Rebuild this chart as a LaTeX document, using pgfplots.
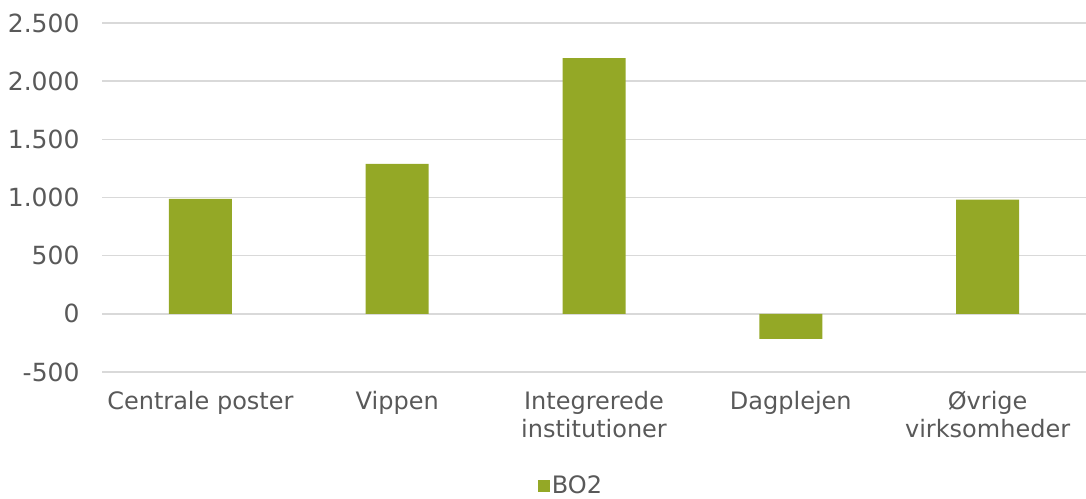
\documentclass[border=0pt]{standalone}
\usepackage{pgfplots}
\pgfplotsset{compat=1.18}
\usepackage{fontspec}
\setmainfont{DejaVu Sans}
\definecolor{barc}{HTML}{94A826}
\definecolor{txtc}{HTML}{595959}
\definecolor{gridc}{HTML}{D9D9D9}
\begin{document}
\begin{tikzpicture}[x=1pt,y=1pt]
\path[use as bounding box] (0,0) rectangle (1086,498);
\begin{axis}[
  at={(102pt,126pt)}, anchor=south west,
  scale only axis, width=984pt, height=349pt,
  xmin=-0.5, xmax=4.5, ymin=-500, ymax=2500,
  axis line style={draw=none},
  major tick length=0pt, tick style={draw=none},
  xmajorgrids=false, ymajorgrids=true,
  major grid style={draw=gridc, line width=1.5pt},
  ytick={-500,0,500,1000,1500,2000,2500},
  yticklabels={-500,0,500,1.000,1.500,2.000,2.500},
  xtick=data,
  xticklabels={{Centrale poster},{Vippen},{Integrerede\\institutioner},{Dagplejen},{Øvrige\\virksomheder}},
  ticklabel style={text=txtc},
  xticklabel style={font=\fontsize{24}{28}\selectfont, align=center, yshift=-16pt},
  yticklabel style={font=\fontsize{25}{29}\selectfont, xshift=-19pt},
  ybar, bar width=63pt,
  legend style={at={(0.4766,-0.326)}, anchor=center, draw=none, fill=none, font=\fontsize{24}{29}\selectfont, text=txtc, legend columns=1},
  legend image code/.code={\fill[#1] (0pt,-6pt) rectangle (12pt,6pt);},
]
\addplot[fill=barc, draw=none] coordinates {(0,988) (1,1289) (2,2199) (3,-215) (4,981)};
\addlegendentry{BO2}
\end{axis}
\end{tikzpicture}
\end{document}
